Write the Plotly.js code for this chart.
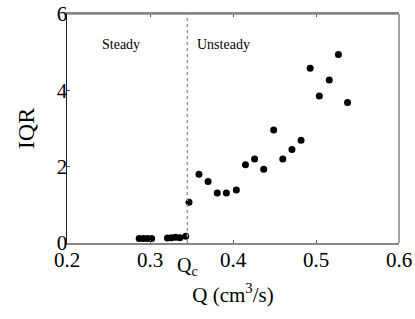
<!DOCTYPE html>
<html>
<head>
<meta charset="utf-8">
<script src="https://cdn.plot.ly/plotly-3.0.1.min.js"></script>
<style>html,body{margin:0;padding:0;background:#fff;}#chart{width:415px;height:319px;}</style>
</head>
<body>
<div id="chart"></div>
<script>
// Steady regime
const steadyQ = [0.287, 0.292, 0.297, 0.302, 0.321, 0.326, 0.331, 0.336, 0.343];
const steadyIQR = [0.12, 0.12, 0.12, 0.12, 0.13, 0.14, 0.15, 0.14, 0.18];
// Unsteady regime
const unsteadyQ = [0.347, 0.359, 0.370, 0.381, 0.392, 0.404, 0.415, 0.426, 0.437, 0.449, 0.460, 0.471, 0.482, 0.493, 0.504, 0.516, 0.527, 0.538];
const unsteadyIQR = [1.07, 1.80, 1.61, 1.31, 1.31, 1.39, 2.05, 2.20, 1.93, 2.96, 2.20, 2.45, 2.69, 4.58, 3.85, 4.27, 4.94, 3.68];
const Qc = 0.345;
const xTicks = [0.2, 0.3, 0.4, 0.5, 0.6];
const xTickText = ['0.2', '0.3', '0.4', '0.5', '0.6'];
const yTicks = [0, 2, 4, 6];

const font = "'Liberation Serif', 'Times New Roman', serif";
const marker = {color: '#000', size: 7};

const traces = [
  {x: steadyQ, y: steadyIQR, mode: 'markers', type: 'scatter', marker: marker, hoverinfo: 'none'},
  {x: unsteadyQ, y: unsteadyIQR, mode: 'markers', type: 'scatter', marker: marker, hoverinfo: 'none'}
];

const layout = {
  width: 415, height: 319,
  margin: {l: 67, r: 16, t: 14, b: 76},
  showlegend: false,
  paper_bgcolor: '#fff', plot_bgcolor: '#fff',
  font: {family: font, color: '#000', size: 21},
  xaxis: {
    range: [0.2, 0.6], tickvals: xTicks, ticktext: xTickText,
    ticks: 'inside', ticklen: 3, tickcolor: '#555', tickwidth: 1,
    showgrid: false, zeroline: false, showline: true, linecolor: '#888', linewidth: 2, mirror: 'ticks',
    tickfont: {family: font, size: 21, color: '#000'},
    ticklabelstandoff: -3,
    title: {text: 'Q (cm<sup>3</sup>/s)', font: {family: font, size: 21, color: '#000'}, standoff: 16}
  },
  yaxis: {
    range: [0, 6], tickvals: yTicks,
    ticks: 'inside', ticklen: 3, tickcolor: '#555', tickwidth: 1,
    showgrid: false, zeroline: false, showline: true, linecolor: '#222', linewidth: 1.5, mirror: false,
    tickfont: {family: font, size: 21, color: '#000'},
    ticklabelstandoff: -6,
    title: {text: 'IQR', font: {family: font, size: 24, color: '#000'}, standoff: 15}
  },
  shapes: [
    {type: 'line', xref: 'x', yref: 'y', x0: Qc, x1: Qc, y0: 0, y1: 6, line: {color: '#999', width: 1.5, dash: 'dot'}},
    {type: 'line', xref: 'paper', yref: 'paper', x0: 1, x1: 1, y0: 0, y1: 1, line: {color: '#888', width: 1.5}},
    {type: 'line', xref: 'paper', yref: 'paper', x0: 0, x1: 1, y0: 1, y1: 1, line: {color: '#888', width: 1.5}}
  ],
  annotations: [
    {x: 0.265, y: 5.2, xref: 'x', yref: 'y', text: 'Steady', showarrow: false, font: {family: font, size: 14, color: '#000'}},
    {x: 0.389, y: 5.2, xref: 'x', yref: 'y', text: 'Unsteady', showarrow: false, font: {family: font, size: 14, color: '#000'}},
    {x: Qc, y: 0, xref: 'x', yref: 'y', yshift: -23, text: 'Q<sub>c</sub>', showarrow: false, font: {family: font, size: 20, color: '#000'}}
  ]
};

Plotly.newPlot('chart', traces, layout, {displayModeBar: false, staticPlot: true});
</script>
</body>
</html>
